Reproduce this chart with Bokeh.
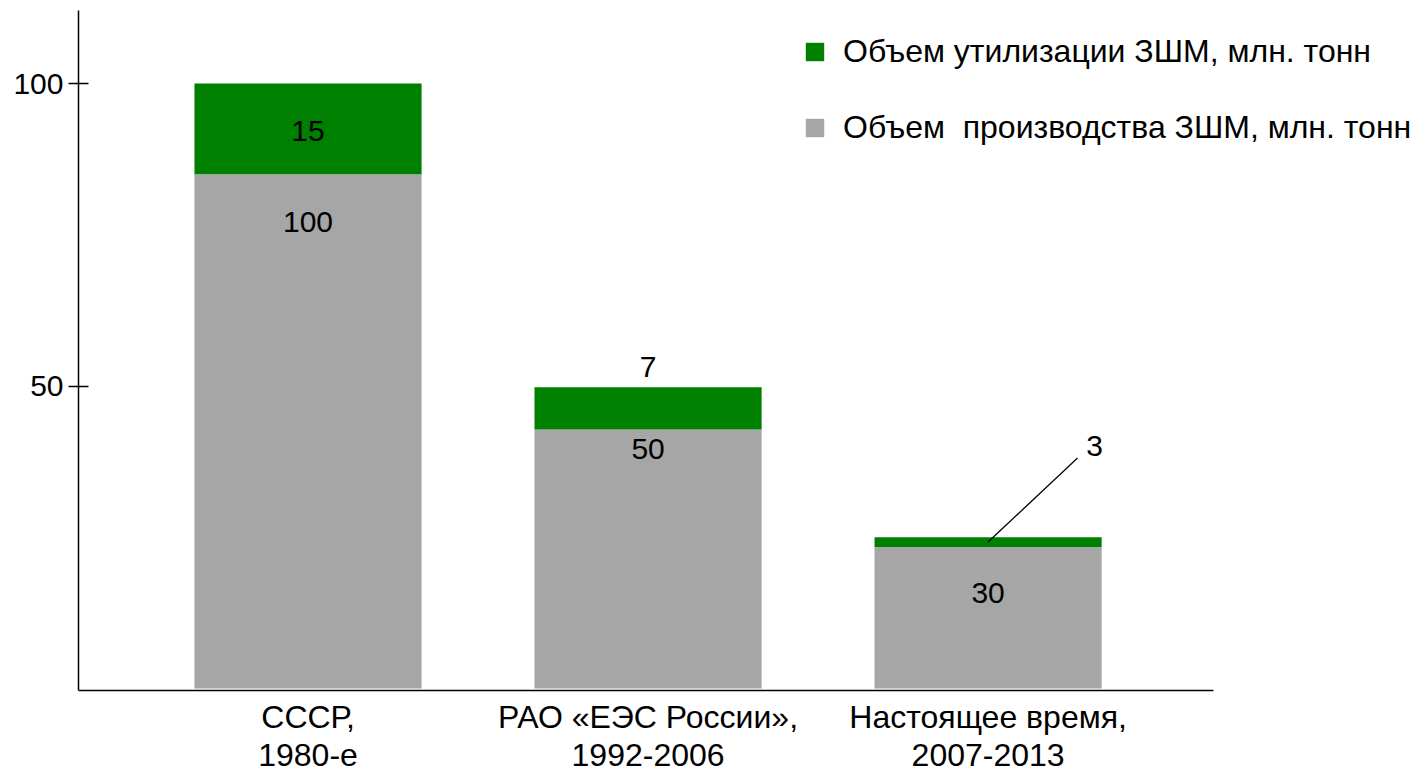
from bokeh.plotting import figure
from bokeh.models import (ColumnDataSource, FixedTicker, Legend, LegendItem, LinearAxis)
from bokeh.core.properties import value
from bokeh.embed import file_html
from bokeh.resources import INLINE

# ---- data ----
categories = ["СССР,\n1980-е", "РАО «ЕЭС России»,\n1992-2006", "Настоящее время,\n2007-2013"]
x_pos = [1, 2, 3]
# segment heights as drawn in the picture
production_drawn = [85.0, 42.8, 23.4]
utilization_drawn = [15.0, 7.0, 1.6]
# value labels as printed
production_labels = ["100", "50", "30"]
utilization_labels = ["15", "7", "3"]
y_ticks = [50, 100]
legend_labels = ["Объем утилизации ЗШМ, млн. тонн", "Объем  производства ЗШМ, млн. тонн"]

GREEN = "#008000"
GRAY = "#A6A6A6"
FONT = "Liberation Sans"
FS_NUM = "30px"
FS_TXT = "32px"

X_START, X_END = 0.325, 4.254
AXIS_X_END = 3.663
Y_START, Y_END = -14.05, 112.07
BASE_Y = -0.33

util_bottom = production_drawn
util_top = [p + u for p, u in zip(production_drawn, utilization_drawn)]

src = ColumnDataSource(dict(
    x=x_pos, prod=production_drawn, ub=util_bottom, ut=util_top,
    plab=production_labels,
    plab_off=[48, 19, 46],
))

p = figure(width=1414, height=773, output_backend="svg", toolbar_location=None,
           x_range=(X_START, X_END), y_range=(Y_START, Y_END),
           x_axis_location=None,
           min_border_left=78, min_border_right=0, min_border_top=10, min_border_bottom=0)
p.outline_line_color = None
p.grid.grid_line_color = None
p.background_fill_color = "white"
p.border_fill_color = "white"

gray_r = p.vbar(x="x", bottom=0, top="prod", width=0.668, source=src,
                fill_color=GRAY, line_color=None)
green_r = p.vbar(x="x", bottom="ub", top="ut", width=0.668, source=src,
                 fill_color=GREEN, line_color=None)

# production labels
p.text(x="x", y="prod", text="plab", source=src, y_offset="plab_off",
       text_align="center", text_baseline="middle",
       text_font=value(FONT), text_font_size=FS_NUM, text_color="black")

# utilization labels for first two bars
u_mid = [(b + t) / 2 for b, t in zip(util_bottom, util_top)]
usrc = ColumnDataSource(dict(
    x=x_pos[:2], y=[u_mid[0], util_top[1]], t=utilization_labels[:2], off=[2, -20]))
p.text(x="x", y="y", text="t", source=usrc, y_offset="off",
       text_align="center", text_baseline="middle",
       text_font=value(FONT), text_font_size=FS_NUM, text_color="black")

# leader line for the third bar
lx0, ly0 = x_pos[2], u_mid[2]
lx1, ly1 = lx0 + 0.263, ly0 + 13.9
p.segment(x0=[lx0], y0=[ly0], x1=[lx1], y1=[ly1], line_color="black", line_width=1.3)
p.text(x=[lx1], y=[ly1], text=[utilization_labels[2]], x_offset=17, y_offset=-12,
       text_align="center", text_baseline="middle",
       text_font=value(FONT), text_font_size=FS_NUM, text_color="black")

# y axis
p.yaxis.ticker = FixedTicker(ticks=y_ticks)
p.yaxis.bounds = (BASE_Y, Y_END)
p.yaxis.minor_tick_line_color = None
p.yaxis.major_tick_in = 10
p.yaxis.major_tick_out = 10
p.yaxis.major_label_standoff = 5
p.yaxis.major_label_text_font = FONT
p.yaxis.major_label_text_font_size = FS_NUM
p.yaxis.major_label_text_color = "black"
p.yaxis.axis_line_color = "black"
p.yaxis.axis_line_width = 1.5
p.yaxis.major_tick_line_color = "black"
p.yaxis.major_tick_line_width = 1.3

# x axis placed at the baseline inside the frame
xa = LinearAxis(fixed_location=BASE_Y, bounds=(X_START, AXIS_X_END))
xa.ticker = FixedTicker(ticks=x_pos)
xa.major_label_overrides = {x: c for x, c in zip(x_pos, categories)}
xa.major_tick_line_color = None
xa.minor_tick_line_color = None
xa.major_label_standoff = 3
xa.major_label_text_font = FONT
xa.major_label_text_font_size = FS_TXT
xa.major_label_text_line_height = 1.04
xa.major_label_text_color = "black"
xa.axis_line_color = "black"
xa.axis_line_width = 1.5
p.add_layout(xa, "below")

legend = Legend(items=[LegendItem(label=legend_labels[0], renderers=[green_r]),
                       LegendItem(label=legend_labels[1], renderers=[gray_r])],
                location=(725, 627), orientation="vertical")
legend.glyph_width = 23
legend.glyph_height = 23
legend.label_standoff = 17
legend.label_text_font = FONT
legend.label_text_font_size = FS_TXT
legend.label_text_color = "black"
legend.label_height = 36
legend.spacing = 39
legend.padding = 0
legend.margin = 0
legend.border_line_color = None
legend.background_fill_alpha = 0
p.add_layout(legend)

open("out.html", "w").write(file_html(p, INLINE))
